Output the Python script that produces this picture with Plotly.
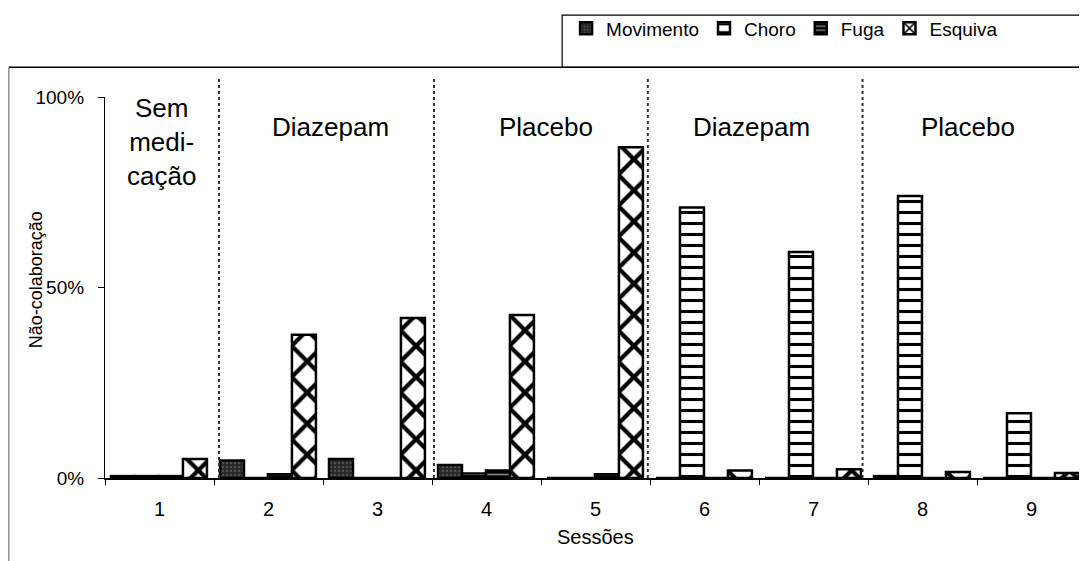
import plotly.graph_objects as go

# Sessões (categorias do eixo x)
sessoes = ["1", "2", "3", "4", "5", "6", "7", "8", "9"]

# Percentual de não-colaboração por comportamento
movimento = [0.5, 4.6, 5.0, 3.4, 0, 0, 0, 0.5, 0]
choro = [0.5, 0, 0, 1.2, 0, 71.0, 59.3, 74.0, 17.0]
fuga = [0.5, 1.0, 0, 2.0, 1.0, 0, 0, 0, 0]
esquiva = [5.0, 37.6, 42.0, 42.8, 86.8, 2.0, 2.3, 1.6, 1.3]

# Fases do estudo (rótulos e divisórias)
fases = ["Sem<br>medi-<br>cação", "Diazepam", "Placebo", "Diazepam", "Placebo"]
fase_x = [0.02, 1.57, 3.55, 5.43, 7.42]
fase_y = [0.881, 0.92, 0.92, 0.92, 0.92]
divisorias = [0.546, 2.518, 4.48, 6.45]

FONT = "Arial, Liberation Sans, sans-serif"
W_BAR = 0.22
contorno = dict(color="black", width=2.5)

fig = go.Figure()

fig.add_trace(go.Bar(
    x=sessoes, y=movimento, name="Movimento", width=W_BAR, offset=-0.445,
    marker=dict(color="#333333", line=contorno,
                pattern=dict(shape=".", fgcolor="#7a7a7a", bgcolor="#262626", size=4, solidity=0.35))))
fig.add_trace(go.Bar(
    x=sessoes, y=choro, name="Choro", width=W_BAR, offset=-0.225,
    marker=dict(color="white", line=contorno,
                pattern=dict(shape="-", fgcolor="black", bgcolor="white", fgopacity=1,
                             size=11, solidity=0.28))))
fig.add_trace(go.Bar(
    x=sessoes, y=fuga, name="Fuga", width=W_BAR, offset=-0.005,
    marker=dict(color="black", line=contorno,
                pattern=dict(shape="-", fgcolor="white", bgcolor="black", size=5, solidity=0.35))))
fig.add_trace(go.Bar(
    x=sessoes, y=esquiva, name="Esquiva", width=W_BAR, offset=0.215,
    marker=dict(color="white", line=contorno,
                pattern=dict(shape="x", fgcolor="black", bgcolor="white", fgopacity=1,
                             size=22, solidity=0.35))))

# divisórias pontilhadas entre as fases
for xd in divisorias:
    fig.add_shape(type="line", xref="x", yref="paper", x0=xd, x1=xd, y0=0, y1=1.052,
                  line=dict(color="#333333", width=2, dash="dot"))

# rótulos das fases
for txt, xf, yf in zip(fases, fase_x, fase_y):
    fig.add_annotation(text=txt, x=xf, y=yf, xref="x", yref="paper", showarrow=False,
                       yanchor="middle", xanchor="center",
                       font=dict(family=FONT, size=26, color="black"))

# moldura externa (topo e lado esquerdo)
fig.add_shape(type="line", xref="paper", yref="paper", x0=-0.098, x1=1.01, y0=1.078, y1=1.078,
              line=dict(color="black", width=1.5))
fig.add_shape(type="line", xref="paper", yref="paper", x0=-0.098, x1=-0.098, y0=-0.3, y1=1.078,
              line=dict(color="#555555", width=1))
# caixa da legenda
fig.add_shape(type="rect", xref="paper", yref="paper", x0=0.466, x1=1.01, y0=1.078, y1=1.215,
              line=dict(color="black", width=1.2))

# títulos dos eixos
fig.add_annotation(text="Não-colaboração", xref="paper", yref="paper", x=-0.07, y=0.52,
                   textangle=-90, showarrow=False, xanchor="center", yanchor="middle",
                   font=dict(family=FONT, size=18, color="black"))
fig.add_annotation(text="Sessões", xref="paper", yref="paper", x=0.5, y=-0.155,
                   showarrow=False, xanchor="center", yanchor="middle",
                   font=dict(family=FONT, size=20, color="black"))

# a página desloca a figura 8 px (margem do body): largura/altura e margens compensam
fig.update_layout(
    width=1079, height=553,
    margin=dict(l=97, r=1, t=84, b=83),
    plot_bgcolor="white", paper_bgcolor="white",
    font=dict(family=FONT, size=19, color="black"),
    barmode="group",
    showlegend=True,
    legend=dict(orientation="h", x=0.47, xanchor="left", y=1.18, yanchor="middle",
                font=dict(family=FONT, size=19), bgcolor="rgba(0,0,0,0)", itemwidth=30,
                traceorder="normal"),
)

fig.update_xaxes(type="category", range=[-0.5, 8.5], showline=True, linecolor="black", linewidth=1.5,
                 ticks="outside", tickson="boundaries", ticklen=5, tickcolor="black",
                 tickfont=dict(family=FONT, size=20), showgrid=False, ticklabelstandoff=12)
fig.update_yaxes(range=[0, 100], tickvals=[0, 50, 100], ticktext=["0%", "50%", "100%"],
                 showline=True, linecolor="black", linewidth=1.2, ticks="outside", ticklen=6,
                 tickcolor="black", tickfont=dict(family=FONT, size=19), showgrid=False,
                 zeroline=False, ticklabelstandoff=10)

fig.write_html("out.html")
